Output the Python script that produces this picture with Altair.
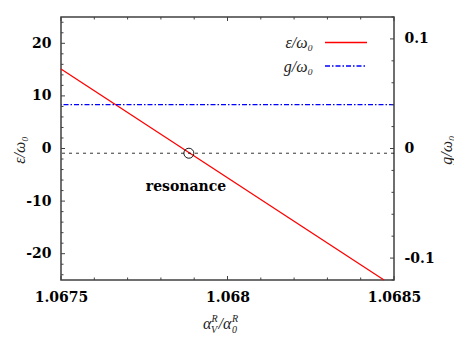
import altair as alt
import pandas as pd

# ---- data ----
x_line = [1.0675, 1.06847]          # alpha_V^R / alpha_0^R
eps_line = [15.1, -25.0]            # epsilon / omega_0 (left axis)
g_level = [0.04]                    # g / omega_0 (right axis)
res_x = [1.067884]                  # resonance point
res_eps = [-0.9]

x_major = [1.0675, 1.068, 1.0685]
x_minor = [1.0676, 1.0677, 1.0678, 1.0679, 1.0681, 1.0682, 1.0683, 1.0684]
yl_major = [-20, -10, 0, 10, 20]
yl_minor = [-24, -22, -18, -16, -14, -12, -8, -6, -4, -2,
            2, 4, 6, 8, 12, 14, 16, 18, 22, 24]
yr_major = [-0.1, 0, 0.1]
yr_minor = [-0.12, -0.08, -0.06, -0.04, -0.02, 0.02, 0.04, 0.06, 0.08, 0.12]

W, H = 333, 263
LABEL_FONT = "DejaVu Serif"
MATH_FONT = "Liberation Serif"

x_scale = alt.Scale(domain=[1.0675, 1.0685], nice=False, zero=False)
yl_scale = alt.Scale(domain=[-25, 25], nice=False, zero=False)
yr_scale = alt.Scale(domain=[-0.12, 0.12], nice=False, zero=False)

X_AXIS = alt.Axis(values=x_major, labelExpr="'' + datum.value", ticks=False,
                  domain=False, grid=False, title=None, labelPadding=10,
                  labelFlush=False, labelOverlap=False)

one = pd.DataFrame({"d": [0]})

def xenc(field="x"):
    return alt.X(f"{field}:Q", scale=x_scale, axis=X_AXIS)

red = alt.Chart(pd.DataFrame({"x": x_line, "eps": eps_line})).mark_line(
    color="#ff0000", strokeWidth=1.3
).encode(
    x=xenc("x"),
    y=alt.Y("eps:Q", scale=yl_scale,
            axis=alt.Axis(values=yl_major, labelExpr="'' + datum.value", ticks=False,
                          domain=False, grid=False, title=None, labelPadding=10,
                          labelFlush=False, labelOverlap=False)),
)

blue = alt.Chart(pd.DataFrame({"g": g_level})).mark_rule(
    color="#0000ff", strokeDash=[5, 2, 1.5, 2], strokeWidth=1.3
).encode(
    y=alt.Y("g:Q", scale=yr_scale,
            axis=alt.Axis(orient="right", values=yr_major, labelExpr="'' + datum.value",
                          ticks=False, domain=False, grid=False, title=None,
                          labelPadding=10, labelFlush=False, labelOverlap=False))
)

dashed = alt.Chart(pd.DataFrame({"v": res_eps})).mark_rule(
    color="black", strokeDash=[3, 4], strokeWidth=0.8
).encode(y=alt.Y("v:Q", scale=yl_scale, axis=None))

circle = alt.Chart(pd.DataFrame({"x": res_x, "v": res_eps})).mark_point(
    shape="circle", size=100, filled=False, color="black", strokeWidth=0.9, opacity=1
).encode(x=xenc("x"), y=alt.Y("v:Q", scale=yl_scale, axis=None))


def label(text, px, py, size=16, style="italic", weight="normal", font=MATH_FONT,
          angle=0, align="left", baseline="alphabetic", color="#222"):
    return alt.Chart(one).mark_text(
        font=font, fontStyle=style, fontWeight=weight, fontSize=size, color=color,
        angle=angle, align=align, baseline=baseline
    ).encode(x=alt.value(px), y=alt.value(py), text=alt.value(text))


def vticks(values, length, scale, side):
    df = pd.DataFrame({"v": values})
    if side == "left":
        xx, xx2 = alt.value(0), alt.value(length)
    else:
        xx, xx2 = alt.value(W - length), alt.value(W)
    return alt.Chart(df).mark_rule(color="#404040", strokeWidth=1).encode(
        y=alt.Y("v:Q", scale=scale, axis=None), x=xx, x2=xx2)


def hticks(values, length, side):
    df = pd.DataFrame({"x": values})
    if side == "bottom":
        yy, yy2 = alt.value(H), alt.value(H - length)
    else:
        yy, yy2 = alt.value(0), alt.value(length)
    return alt.Chart(df).mark_rule(color="#404040", strokeWidth=1).encode(
        x=xenc("x"), y=yy, y2=yy2)


leg_red = alt.Chart(one).mark_rule(color="#ff0000", strokeWidth=1.3).encode(
    x=alt.value(264), x2=alt.value(306), y=alt.value(25.5))
leg_blue = alt.Chart(one).mark_rule(
    color="#0000ff", strokeWidth=1.3, strokeDash=[5, 2, 1.5, 2]).encode(
    x=alt.value(264), x2=alt.value(306), y=alt.value(49))

layers = [
    red, blue, dashed, circle,
    vticks(yl_major, 4, yl_scale, "left"), vticks(yl_minor, 2.5, yl_scale, "left"),
    vticks(yr_major, 4, yr_scale, "right"), vticks(yr_minor, 2.5, yr_scale, "right"),
    hticks(x_major, 4, "bottom"), hticks(x_minor, 2.5, "bottom"),
    hticks(x_major, 4, "top"), hticks(x_minor, 2.5, "top"),
    leg_red, leg_blue,
    label("resonance", 125, 170, size=14, style="normal", weight="bold",
          font=LABEL_FONT, align="center", baseline="middle", color="black"),
    label("ε/ω₀", 252, 31, align="right"),
    label("g/ω₀", 252, 55, align="right"),
    label("ε/ω₀", -41, 133, angle=270, align="center", baseline="middle"),
    label("g/ω₀", 386, 133, angle=270, align="center", baseline="middle"),
    # x-axis title  alpha_V^R / alpha_0^R
    label("α", 142, 312),
    label("R", 150.5, 305, size=10),
    label("V", 150, 316, size=10),
    label("/α", 157.5, 312),
    label("R", 171, 305, size=10),
    label("0", 171, 316, size=10),
]

chart = alt.layer(*layers).resolve_scale(y="independent").properties(
    width=W, height=H,
    autosize=alt.AutoSizeParams(type="none"),
    padding={"left": 53, "top": 9, "right": 60, "bottom": 54},
).configure_view(
    stroke="#404040", strokeWidth=1.5
).configure_axis(
    labelFont=LABEL_FONT, labelFontWeight="bold", labelFontSize=14, labelColor="black",
)

chart.save("out.html", embed_options={"renderer": "svg", "actions": False})
